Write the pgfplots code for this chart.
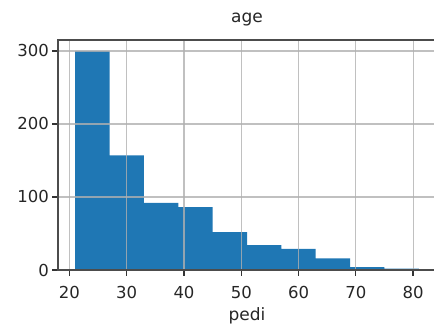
\documentclass[border=0pt]{standalone}
\usepackage{pgfplots}
\pgfplotsset{compat=1.18}
\usepackage{fontspec}
\setmainfont{DejaVu Sans}
\definecolor{mplblue}{HTML}{1F77B4}
\definecolor{gridgray}{HTML}{B0B0B0}
\begin{document}
\begin{tikzpicture}
\useasboundingbox (0,0) rectangle (434bp,333bp);
\begin{axis}[
  at={(58bp,63bp)}, anchor=south west,
  scale only axis, width=378bp, height=230bp,
  xmin=18, xmax=84, ymin=0, ymax=315,
  xtick={20,30,40,50,60,70,80}, ytick={0,100,200,300},
  grid=major, grid style={color=gridgray, line width=1.1bp, opacity=0.8},
  axis on top,
  axis line style={black!70, line width=1.3bp},
  tick style={black!80, line width=1.2bp},
  tick align=outside, major tick length=5.5bp,
  xtick pos=bottom, ytick pos=left,
  /pgf/number format/assume math mode=true,
  ticklabel style={font=\fontsize{16.5bp}{19bp}\selectfont, text=black!85},
  xticklabel style={yshift=-7bp},
  title={age},
  title style={font=\fontsize{17bp}{20bp}\selectfont, text=black!85, yshift=4bp},
  xlabel={pedi},
  xlabel style={font=\fontsize{17bp}{20bp}\selectfont, text=black!85, yshift=-2bp},
]
\addplot[ybar interval, fill=mplblue, draw=none] coordinates {
  (21,300) (27,157) (33,92) (39,86) (45,52) (51,34) (57,29) (63,16) (69,4) (75,2) (81,2)
};
\end{axis}
\end{tikzpicture}
\end{document}
